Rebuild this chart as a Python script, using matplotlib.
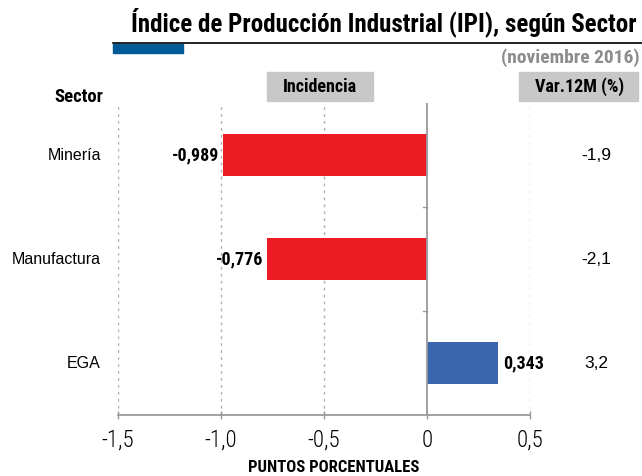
import matplotlib.pyplot as plt
from matplotlib import font_manager as fm
from matplotlib.patches import Rectangle

# Datos
sectores = ["Minería", "Manufactura", "EGA"]
incidencia = [-0.989, -0.776, 0.343]
incidencia_txt = ["-0,989", "-0,776", "0,343"]
var_12m = ["-1,9", "-2,1", "3,2"]
xticks = [-1.5, -1.0, -0.5, 0, 0.5]
xtick_labels = ["-1,5", "-1,0", "-0,5", "0", "0,5"]

ROJO = "#ED1C24"
AZUL = "#3A66AD"
GRIS = "#9a9a9a"

# fuente condensada disponible
disponibles = {f.name for f in fm.fontManager.ttflist}
candidatas = ["Roboto Condensed", "Archivo Narrow", "Barlow Condensed",
              "Fira Sans Condensed", "Liberation Sans Narrow"]
cond = next((c for c in candidatas if c in disponibles), "DejaVu Sans")
NARROW = [cond, "DejaVu Sans"]
SANS = ["Liberation Sans", "DejaVu Sans"]

fig = plt.figure(figsize=(6.42, 4.76), dpi=100)
W, H = 642, 476
ax = fig.add_axes([118 / W, 1 - 415 / H, 412 / W, 312 / H])

ypos = list(range(len(sectores)))
colores = [ROJO if v < 0 else AZUL for v in incidencia]
ax.barh(ypos, incidencia, height=0.4, color=colores, zorder=3)

ax.set_xlim(-1.5, 0.5)
ax.set_ylim(2.5, -0.5)

# rejilla vertical punteada
for x in xticks:
    if x == 0:
        ax.axvline(0, color=GRIS, lw=1.3, zorder=4)
    else:
        ax.axvline(x, color="#b0b0b0", lw=1, ls=(0, (2, 3)), zorder=1)

# separadores de categoría sobre el eje cero
for yb in [0.5, 1.5]:
    ax.plot([-0.018, 0], [yb, yb], color=GRIS, lw=1, zorder=4, clip_on=False)

for s in ["top", "right", "left"]:
    ax.spines[s].set_visible(False)
ax.spines["bottom"].set_color(GRIS)
ax.spines["bottom"].set_linewidth(1.3)
ax.set_yticks([])
ax.set_xticks(xticks)
ax.set_xticklabels(xtick_labels, family=NARROW, fontsize=16.5, fontweight="light")
ax.tick_params(axis="x", direction="inout", length=6, color=GRIS, width=1, pad=7)

# etiquetas de valor
for y, v, t in zip(ypos, incidencia, incidencia_txt):
    if v < 0:
        ax.text(v - 0.02, y, t, ha="right", va="center", fontsize=13,
                fontweight="bold", family=NARROW)
    else:
        ax.text(v + 0.025, y, t, ha="left", va="center", fontsize=13,
                fontweight="bold", family=NARROW)

# sectores y variación
for y, s, v in zip(ypos, sectores, var_12m):
    yf = ax.transData.transform((0, y))[1] / H
    fig.text(101 / W, yf, s, ha="right", va="center", fontsize=11.5, family=SANS)
    fig.text(596 / W, yf, v, ha="center", va="center", fontsize=12.5, family=SANS)

fig.text(334 / W, 1 - 467 / H, "PUNTOS PORCENTUALES", ha="center", va="center",
         fontsize=12, fontweight="bold", family=NARROW)

# título y cabecera
fig.text(637 / W, 1 - 22 / H, "Índice de Producción Industrial (IPI), según Sector",
         ha="right", va="center", fontsize=18, fontweight="bold", family=NARROW)
fig.add_artist(plt.Line2D([113 / W, 1], [1 - 43 / H, 1 - 43 / H], color="black",
                          lw=1.2, transform=fig.transFigure))
fig.add_artist(Rectangle((113 / W, 1 - 53 / H), 70 / W, 9 / H, color="#005A96",
                         transform=fig.transFigure))
fig.text(640 / W, 1 - 58 / H, "(noviembre 2016)", ha="right", va="center",
         fontsize=14, fontweight="bold", color="#8c8c8c", family=NARROW)

fig.add_artist(Rectangle((267 / W, 1 - 101 / H), 106 / W, 29 / H, color="#c8c8c8",
                         transform=fig.transFigure))
fig.text(320 / W, 1 - 87 / H, "Incidencia", ha="center", va="center",
         fontsize=13, fontweight="bold", family=NARROW)
fig.add_artist(Rectangle((519 / W, 1 - 101 / H), 119 / W, 29 / H, color="#c8c8c8",
                         transform=fig.transFigure))
fig.text(580 / W, 1 - 87 / H, "Var.12M (%)", ha="center", va="center",
         fontsize=13, fontweight="bold", family=NARROW)
fig.text(79 / W, 1 - 97 / H, "Sector", ha="center", va="center",
         fontsize=13.5, fontweight="bold", family=NARROW)

fig.savefig("out.png", dpi=100)
